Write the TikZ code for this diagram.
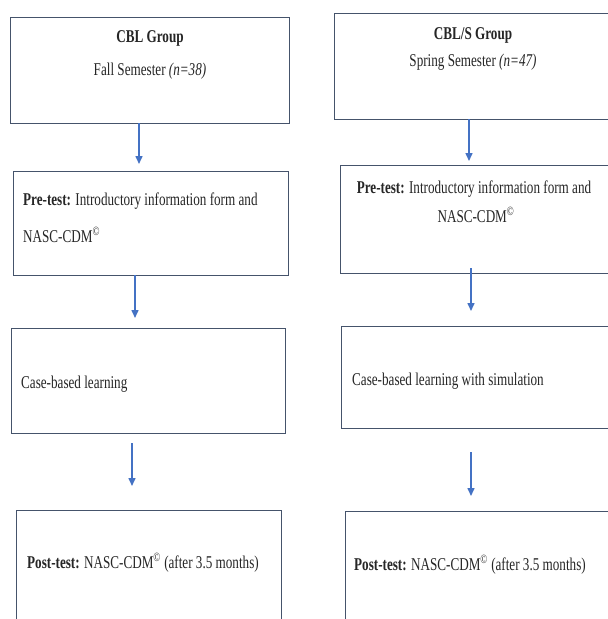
\documentclass[tikz,border=0pt]{standalone}
\usepackage{fontspec}
\setmainfont[FakeStretch=0.73]{Liberation Serif}
\usetikzlibrary{arrows.meta}
\definecolor{boxc}{HTML}{45536B}
\definecolor{arrc}{HTML}{4472C4}
\tikzset{
  box/.style={draw=boxc, line width=1.4pt, fill=white, inner sep=0pt, anchor=north west},
  txt/.style={inner sep=0pt, text=black!85, font=\fontsize{18}{18}\selectfont},
  arr/.style={-{Triangle[length=8pt,width=7pt]}, draw=arrc, line width=1.5pt}
}
\begin{document}
\begin{tikzpicture}[x=1pt,y=-1pt]
\useasboundingbox (0,0) rectangle (608,619);
\clip (0,0) rectangle (608,619);
\fill[white] (0,0) rectangle (608,619);
% left column boxes
\node[box, minimum width=279pt, minimum height=106pt] (L1) at (10,17) {};
\node[box, minimum width=275pt, minimum height=104pt] (L2) at (13,171) {};
\node[box, minimum width=274pt, minimum height=105pt] (L3) at (11,328) {};
\node[box, minimum width=265pt, minimum height=140pt] (L4) at (16,510) {};
% right column boxes
\node[box, minimum width=280pt, minimum height=106pt] (R1) at (334,13) {};
\node[box, minimum width=272pt, minimum height=108pt] (R2) at (340,165) {};
\node[box, minimum width=272pt, minimum height=102pt] (R3) at (341,326) {};
\node[box, minimum width=270pt, minimum height=140pt] (R4) at (345,511) {};
% left texts
\node[txt, anchor=base] (t1a) at (150,42) {\textbf{CBL Group}};
\node[txt, anchor=base] (t1b) at (150,75) {Fall Semester \textit{(n=38)}};
\node[txt, anchor=base west] (t2a) at (23,205) {\textbf{Pre-test:} Introductory information form and};
\node[txt, anchor=base west] (t2b) at (23,242) {NASC-CDM\textsuperscript{©}};
\node[txt, anchor=base west] (t3) at (21,388) {Case-based learning};
\node[txt, anchor=base west] (t4) at (27,568) {\textbf{Post-test:} NASC-CDM\textsuperscript{©} (after 3.5 months)};
% right texts
\node[txt, anchor=base] (r1a) at (473,39) {\textbf{CBL/S Group}};
\node[txt, anchor=base] (r1b) at (473,66) {Spring Semester \textit{(n=47)}};
\node[txt, anchor=base] (r2a) at (474,193) {\textbf{Pre-test:} Introductory information form and};
\node[txt, anchor=base] (r2b) at (476,222) {NASC-CDM\textsuperscript{©}};
\node[txt, anchor=base west] (r3) at (352,385) {Case-based learning with simulation};
\node[txt, anchor=base west] (r4) at (354,570) {\textbf{Post-test:} NASC-CDM\textsuperscript{©} (after 3.5 months)};
% arrow end points
\coordinate (la1s) at (139,123); \coordinate (la1e) at (139,164);
\coordinate (la2s) at (135,275); \coordinate (la2e) at (135,318);
\coordinate (la3s) at (132,443); \coordinate (la3e) at (132,486);
\coordinate (ra1s) at (469,119); \coordinate (ra1e) at (469,161);
\coordinate (ra2s) at (471,268); \coordinate (ra2e) at (471,311);
\coordinate (ra3s) at (471,452); \coordinate (ra3e) at (471,496);
\draw[arr] (la1s) -- (la1e);
\draw[arr] (la2s) -- (la2e);
\draw[arr] (la3s) -- (la3e);
\draw[arr] (ra1s) -- (ra1e);
\draw[arr] (ra2s) -- (ra2e);
\draw[arr] (ra3s) -- (ra3e);
\end{tikzpicture}
\end{document}
